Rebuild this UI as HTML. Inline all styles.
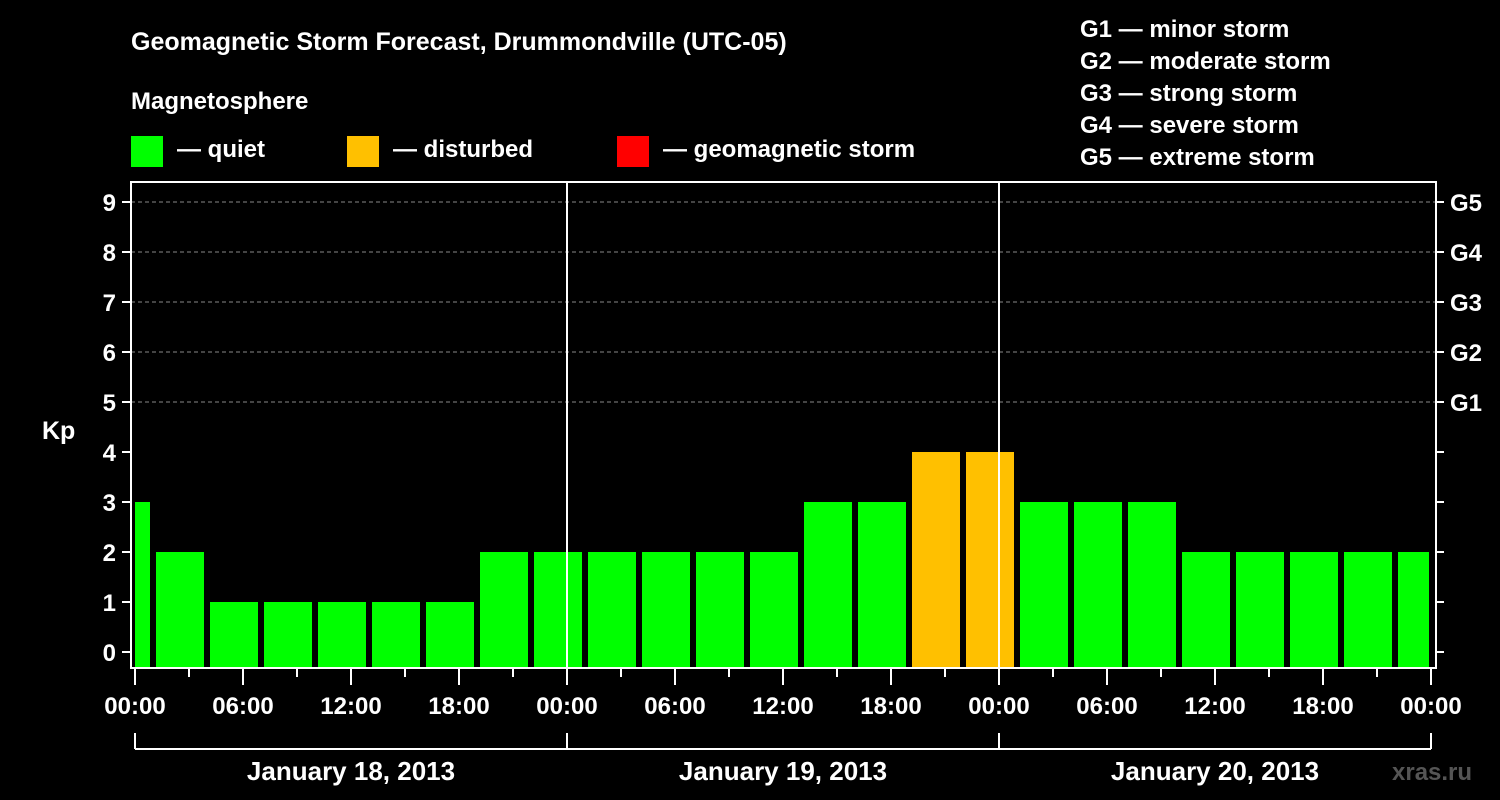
<!DOCTYPE html>
<html><head><meta charset="utf-8"><style>
html,body{margin:0;padding:0;background:#000;}
svg{display:block;font-family:"Liberation Sans",Arial,sans-serif;font-weight:bold;}
</style></head><body>
<svg id="chart" width="1500" height="800" viewBox="0 0 1500 800">
<text x="131" y="50" fill="#fff" font-size="25">Geomagnetic Storm Forecast, Drummondville (UTC-05)</text>
<text x="131" y="109" fill="#fff" font-size="24">Magnetosphere</text>
<g><rect x="131" y="136" width="32" height="31" fill="#00ff00"/><text x="177" y="157" fill="#fff" font-size="24">— quiet</text></g>
<g><rect x="347" y="136" width="32" height="31" fill="#ffc000"/><text x="393" y="157" fill="#fff" font-size="24">— disturbed</text></g>
<g><rect x="617" y="136" width="32" height="31" fill="#ff0000"/><text x="663" y="157" fill="#fff" font-size="24">— geomagnetic storm</text></g>
<g fill="#fff" font-size="24">
<text x="1080" y="37">G1 — minor storm</text>
<text x="1080" y="69">G2 — moderate storm</text>
<text x="1080" y="101">G3 — strong storm</text>
<text x="1080" y="133">G4 — severe storm</text>
<text x="1080" y="165">G5 — extreme storm</text>
</g>
<text x="42" y="439" fill="#fff" font-size="25">Kp</text>
<text x="1392" y="780" fill="#555" font-size="24">xras.ru</text>
<g id="grid"></g><g id="bars"></g><g id="axes"></g>
</svg>
<script>
const kpValues=[3,2,1,1,1,1,1,2,2,2,2,2,2,3,3,4,4,3,3,3,2,2,2,2,2];
const firstBarHour=-0.5; const barStepHours=3;
const yTicks=[0,1,2,3,4,5,6,7,8,9];
const gLabels=["G1","G2","G3","G4","G5"];
const xTickLabels=["00:00","06:00","12:00","18:00","00:00","06:00","12:00","18:00","00:00","06:00","12:00","18:00","00:00"];
const dayLabels=["January 18, 2013","January 19, 2013","January 20, 2013"];
const NS="http://www.w3.org/2000/svg";
const L=131,R=1436,T=182,B=668,X0=135,PXH=18,Y0=652,PXU=50;
const x=h=>X0+h*PXH, y=v=>Y0-v*PXU;
function mk(tag,attrs,parent){const e=document.createElementNS(NS,tag);for(const k in attrs)e.setAttribute(k,attrs[k]);parent.appendChild(e);return e;}
const grid=document.getElementById('grid'),bars=document.getElementById('bars'),axes=document.getElementById('axes');
for(let v=5;v<=9;v++){const l=mk('line',{x1:L,x2:R,y1:y(v),y2:y(v),stroke:'#888','stroke-dasharray':'4,3','stroke-width':1},grid);

}
kpValues.forEach((v,i)=>{const c=x(firstBarHour+i*barStepHours);let x1=c-24,x2=c+24;x1=Math.max(x1,X0);x2=Math.min(x2,1429);
const col=v>=5?'#ff0000':(v>=4?'#ffc000':'#00ff00');
const r=mk('rect',{x:x1,y:y(v),width:x2-x1,height:667-y(v),fill:col},bars);

});
[1,2].forEach(d=>{const l=mk('line',{x1:x(24*d),x2:x(24*d),y1:T,y2:B,stroke:'#fff','stroke-width':2},axes);

});
const f=mk('rect',{x:L,y:T,width:R-L,height:B-T,fill:'none',stroke:'#fff','stroke-width':2},axes);


yTicks.forEach(v=>{mk('line',{x1:122,x2:L,y1:y(v),y2:y(v),stroke:'#fff','stroke-width':2},axes);
mk('line',{x1:R,x2:1444,y1:y(v),y2:y(v),stroke:'#fff','stroke-width':2},axes);
const t=mk('text',{x:116,y:y(v)+9,fill:'#fff','font-size':24,'text-anchor':'end'},axes);t.textContent=v;

});
gLabels.forEach((g,i)=>{const t=mk('text',{x:1450,y:y(5+i)+9,fill:'#fff','font-size':24},axes);t.textContent=g;

});
for(let h=0;h<=72;h+=3){const major=h%6===0;mk('line',{x1:x(h),x2:x(h),y1:B,y2:major?685:677,stroke:'#fff','stroke-width':2},axes);}
xTickLabels.forEach((s,i)=>{const t=mk('text',{x:x(i*6),y:714,fill:'#fff','font-size':24,'text-anchor':'middle'},axes);t.textContent=s;

});
mk('line',{x1:x(0),x2:x(72),y1:749,y2:749,stroke:'#fff','stroke-width':2},axes);
for(let d=0;d<=3;d++)mk('line',{x1:x(24*d),x2:x(24*d),y1:733,y2:749,stroke:'#fff','stroke-width':2},axes);
dayLabels.forEach((s,i)=>{const t=mk('text',{x:x(24*i+12),y:780,fill:'#fff','font-size':26,'text-anchor':'middle'},axes);t.textContent=s;

});
</script>
</body></html>
